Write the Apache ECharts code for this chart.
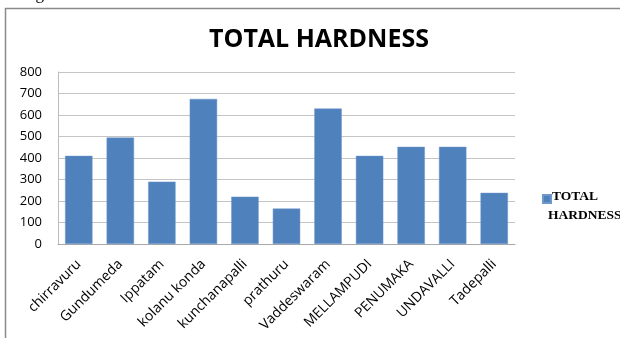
<!DOCTYPE html>
<html>
<head>
<meta charset="utf-8">
<script src="https://cdn.jsdelivr.net/npm/echarts@6/dist/echarts.min.js"></script>
<style>
  html, body { margin: 0; padding: 0; background: #fff; }
  #chart { width: 620px; height: 338px; }
</style>
</head>
<body>
<div id="chart"></div>
<script>
// Total hardness measured at each village
const villages = ['chirravuru', 'Gundumeda', 'Ippatam', 'kolanu konda', 'kunchanapalli',
  'prathuru', 'Vaddeswaram', 'MELLAMPUDI', 'PENUMAKA', 'UNDAVALLI', 'Tadepalli'];
const hardness = [410, 495, 290, 675, 220, 165, 630, 410, 452, 452, 238];
const yTicks = [0, 100, 200, 300, 400, 500, 600, 700, 800];
const seriesName = 'TOTAL HARDNESS';
const legendLines = seriesName.split(' ');

const barColor = '#4f81bd';
const legendFont = 'bold 13.5px "Liberation Serif"';

const chart = echarts.init(document.getElementById('chart'), null, { renderer: 'canvas' });

chart.setOption({
  animation: false,
  backgroundColor: '#ffffff',
  title: {
    text: 'TOTAL HARDNESS',
    left: 314,
    top: 22,
    textAlign: 'center',
    textStyle: { fontFamily: 'Open Sans', fontWeight: 'bold', fontSize: 25, color: '#000' }
  },
  // legend draws only the swatch; its two-line caption is placed below as text
  legend: {
    data: [seriesName],
    left: 542,
    top: 194,
    padding: 0,
    itemWidth: 8,
    itemHeight: 8,
    icon: 'rect',
    formatter: () => '',
    textStyle: { fontSize: 1 }
  },
  grid: { left: 58, top: 72, right: 105, bottom: 94, containLabel: false },
  xAxis: {
    type: 'category',
    data: villages,
    axisLine: { lineStyle: { color: '#a8a8a8' } },
    axisTick: { show: false },
    axisLabel: {
      rotate: 45, interval: 0, margin: 18,
      fontFamily: 'Open Sans', fontSize: 14, color: '#000'
    }
  },
  yAxis: {
    type: 'value',
    min: 0, max: yTicks[yTicks.length - 1], interval: 100,
    axisLine: { show: true, lineStyle: { color: '#bcbcbc' } },
    axisTick: { show: false },
    splitLine: { lineStyle: { color: '#c4c4c4' } },
    axisLabel: { fontFamily: 'Open Sans', fontSize: 13, color: '#000', margin: 16 }
  },
  series: [{
    name: seriesName,
    type: 'bar',
    data: hardness,
    barCategoryGap: '34%',
    itemStyle: { color: barColor, borderColor: '#6f97c9', borderWidth: 0.5 }
  }],
  graphic: [
    {
      type: 'rect',
      shape: { x: 5.5, y: 8.5, width: 630, height: 340 },
      style: { fill: 'none', stroke: '#8a8a8a', lineWidth: 1.5 },
      silent: true
    },
    {
      type: 'text',
      left: 0, top: -14,
      style: { text: 'the figure.III:', font: '17px "Liberation Serif"', fill: '#000' },
      silent: true
    },
    {
      type: 'text',
      x: 552, y: 197,
      style: { text: legendLines[0], font: legendFont, fill: '#000', verticalAlign: 'middle' },
      silent: true
    },
    {
      type: 'text',
      x: 548, y: 216,
      style: { text: legendLines[1], font: legendFont, fill: '#000', verticalAlign: 'middle' },
      silent: true
    }
  ]
});
</script>
</body>
</html>
